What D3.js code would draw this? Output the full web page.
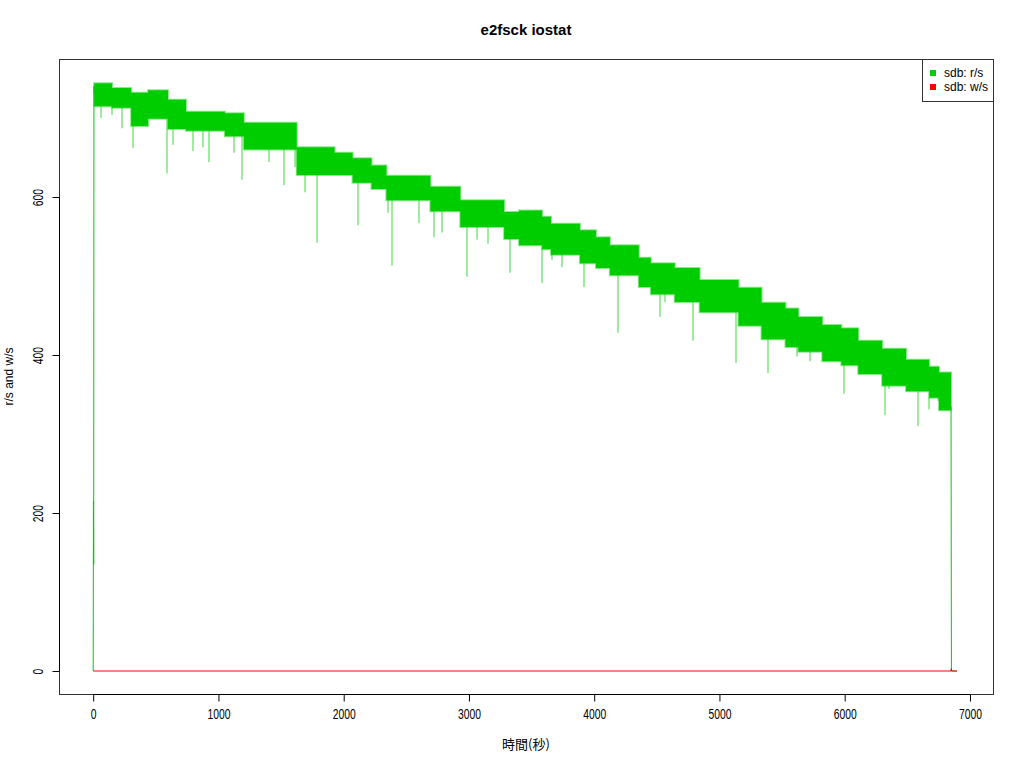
<!DOCTYPE html>
<html><head><meta charset="utf-8">
<script src="https://cdn.jsdelivr.net/npm/d3@7"></script>
<style>body{margin:0;background:#fff}</style>
</head><body>
<svg id="c" width="1024" height="768"></svg>
<script>
// ---- data ----
// r/s band: segment start time (s), band top and band bottom (the line oscillates densely between them)
const segX   = [8,151,303,438,597,741,1051,1203,1625,1808,1927,2071,2222,2341,2692,2931,3281,3400,3584,3655,3886,4014,4125,4356,4452,4643,4842,5152,5336,5527,5630,5821,5973,6108,6299,6490,6674,6753,6849];
const segTop = [744,738,732,735,723,708,706,694,663,663,656,649,640,627,613,596,581,583,575,566,558,549,539,523,516,510,495,485,466,459,448,438,434,418,408,394,385,378,378];
const segBot = [715,713,690,699,686,684,677,660,628,628,628,618,610,596,582,562,547,539,534,527,516,510,501,486,477,467,454,437,420,410,404,392,387,376,361,354,346,330,330];
// downward spikes of r/s: time and minimum value
const spikeX = [64,149,231,318,589,637,796,876,924,1123,1187,1402,1521,1609,1688,1784,1943,2118,2357,2389,2604,2724,2786,2986,3066,3154,3329,3584,3663,3743,3918,4189,4523,4563,4786,5129,5391,5622,5726,5997,6323,6355,6586,6674,6745];
const spikeV = [700,704,687,662,630,666,658,663,644,656,622,644,615,638,606,542,656,564,580,513,567,549,555,499,546,541,504,491,520,511,486,428,448,467,418,390,377,398,392,351,324,357,310,331,342];
// start and end of r/s series
const leadX = [0,2,4,6,8];
const leadV = [0,215,135,740,730];
const tailX = [6849,6852,6897];
const tailV = [335,0,0];
// w/s series
const wX = [0,6849,6851,6853,6897];
const wV = [0,0,3,0,0];
const xTicks = [0,1000,2000,3000,4000,5000,6000,7000];
const yTicks = [0,200,400,600];
const legendLabels = ["sdb: r/s","sdb: w/s"];
const colors = ["#00CD00","#FF0000"];

// ---- drawing ----
const svg = d3.select("#c");
const L=59,R=993,T=59,B=694;
const x = d3.scaleLinear().domain([-273,7184]).range([L,R]);
const y = d3.scaleLinear().domain([-29.1,774.7]).range([B,T]);

const band = segX.map((d,i)=>({x:d,t:segTop[i],b:segBot[i]}));
const areaGen = d3.area().x(d=>x(d.x)).y0(d=>y(d.b)).y1(d=>y(d.t)).curve(d3.curveStepAfter);
svg.append("path").datum(band).attr("d", areaGen)
  .attr("fill", colors[0]).attr("stroke", colors[0]).attr("stroke-opacity",0.45).attr("stroke-width",2);

// spikes from band bottom down to minimum
const bis = d3.bisector(d=>d).right;
spikeX.forEach((sx,i)=>{
  const k = Math.max(0, bis(segX, sx)-1);
  svg.append("line")
    .attr("x1", Math.round(x(sx))).attr("x2", Math.round(x(sx)))
    .attr("y1", y(segBot[k])).attr("y2", y(spikeV[i]))
    .attr("stroke", colors[0]).attr("stroke-width",1).attr("opacity",0.75);
});

const line = d3.line().x(d=>x(d[0])).y(d=>y(d[1]));
svg.append("path").attr("d", line(leadX.map((d,i)=>[d,leadV[i]])))
  .attr("fill","none").attr("stroke",colors[0]).attr("stroke-width",1);
svg.append("path").attr("d", line(tailX.map((d,i)=>[d,tailV[i]])))
  .attr("fill","none").attr("stroke",colors[0]).attr("stroke-width",1);
svg.append("path").attr("d", line(wX.map((d,i)=>[d,wV[i]])))
  .attr("fill","none").attr("stroke",colors[1]).attr("stroke-width",1);

// box
svg.append("rect").attr("x",L+0.5).attr("y",T+0.5).attr("width",R-L).attr("height",B-T)
  .attr("fill","none").attr("stroke","#333").attr("stroke-width",1);

// axes
const tickFont = "'Liberation Sans',Arial,sans-serif";
const xa = svg.append("g").attr("transform",`translate(0,${B+0.5})`)
  .call(d3.axisBottom(x).tickValues(xTicks).tickFormat(d3.format("d")).tickSize(7).tickPadding(8).tickSizeOuter(0));
xa.select(".domain").remove();
xa.append("line").attr("x1",x(0)).attr("x2",x(7000)).attr("stroke","#000");
xa.selectAll("text").attr("font-family",tickFont).attr("font-size",14).attr("fill","#000")
  .attr("transform","scale(0.74,1)");

const ya = svg.append("g").attr("transform",`translate(${L+0.5},0)`)
  .call(d3.axisLeft(y).tickValues(yTicks).tickFormat(d3.format("d")).tickSize(7).tickSizeOuter(0));
ya.select(".domain").remove();
ya.append("line").attr("y1",y(0)).attr("y2",y(600)).attr("stroke","#000");
ya.selectAll("text").attr("font-family",tickFont).attr("font-size",14).attr("fill","#000")
  .attr("text-anchor","middle").attr("dy",null).attr("x",0).attr("y",0)
  .attr("transform","translate(-17,0) rotate(-90) scale(0.74,1)");

// titles
svg.append("text").attr("x",(L+R)/2).attr("y",35).attr("text-anchor","middle")
  .attr("font-family","'Liberation Sans',Arial,sans-serif").attr("font-weight","bold").attr("font-size",15)
  .text("e2fsck iostat");
svg.append("text").attr("x",(L+R)/2).attr("y",749).attr("text-anchor","middle")
  .attr("font-family","'Noto Sans CJK JP',sans-serif").attr("font-size",13)
  .text("時間(秒)");
svg.append("text").attr("transform",`translate(13,${(T+B)/2}) rotate(-90)`).attr("text-anchor","middle")
  .attr("font-family","'Liberation Sans',Arial,sans-serif").attr("font-size",12)
  .text("r/s and w/s");

// legend
const lg = svg.append("g");
lg.append("rect").attr("x",922.5).attr("y",59.5).attr("width",71).attr("height",42)
  .attr("fill","#fff").attr("stroke","#333");
legendLabels.forEach((t,i)=>{
  lg.append("rect").attr("x",930).attr("y",70+i*14).attr("width",6).attr("height",6).attr("fill",colors[i]);
  lg.append("text").attr("x",944).attr("y",77+i*14).attr("font-family","'Liberation Sans',Arial,sans-serif")
    .attr("font-size",12).text(t);
});
</script>
</body></html>
